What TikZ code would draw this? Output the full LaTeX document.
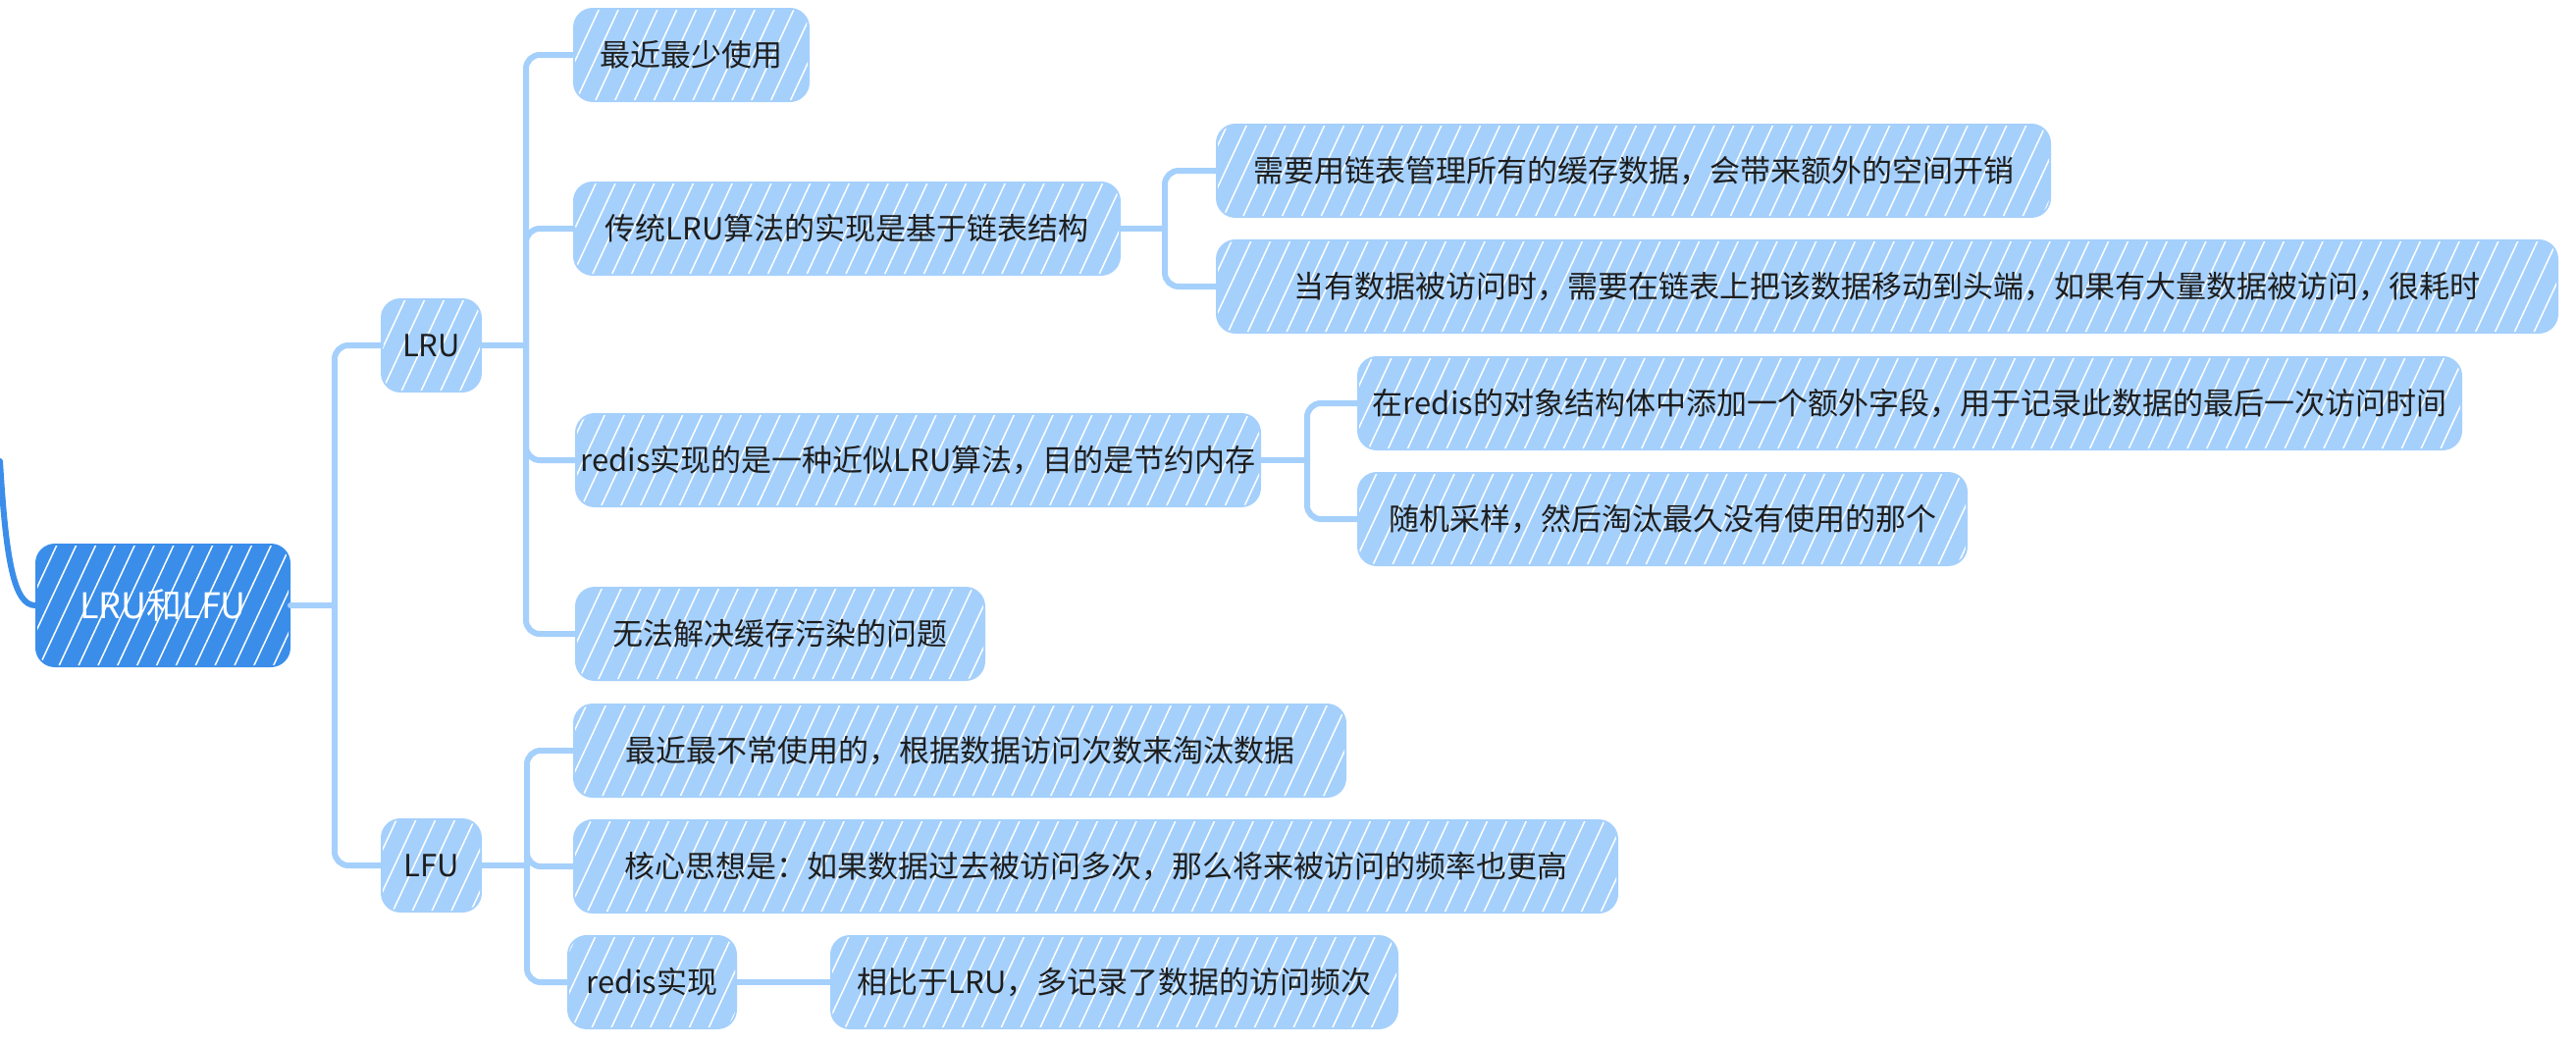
\documentclass[tikz,border=0pt]{standalone}
\usepackage{fontspec}
\newfontfamily\cjk{Noto Sans CJK SC}
\usetikzlibrary{patterns.meta}
\definecolor{cLight}{HTML}{A5D0FC}
\definecolor{cDark}{HTML}{3A8EEA}
\definecolor{cText}{HTML}{1E1E1E}
\definecolor{cLine}{HTML}{A5D0FC}
\begin{document}
\begin{tikzpicture}[x=1pt,y=-1pt,
  box/.style={rounded corners=18pt, fill=cLight, draw=cLight, line width=4pt,
    minimum height=92pt, inner sep=0pt, anchor=west, text=cText,
    font=\cjk\fontsize{31}{36}\selectfont,
    postaction={pattern={Lines[angle=65,distance=18pt,line width=1.5pt]}, pattern color=white, fill opacity=0.4}},
  rootbox/.style={box, fill=cDark, draw=cDark, text=white, minimum height=122pt,
    font=\cjk\fontsize{36}{40}\selectfont},
  conn/.style={draw=cLine, line width=6pt, rounded corners=14pt, line cap=round},
  rootlink/.style={draw=cDark, line width=6pt, line cap=round}
]
\useasboundingbox (0,0) rectangle (2625,1063);

% nodes
\node[rootbox, minimum width=256pt] (root) at (36,617) {LRU和LFU};
\node[box, minimum width=99pt] (lru) at (388,352) {LRU};
\node[box, minimum width=99pt] (lfu) at (388,882) {LFU};

\node[box, minimum width=237pt] (n1) at (584,56) {最近最少使用};
\node[box, minimum width=554pt] (n2) at (584,233) {传统LRU算法的实现是基于链表结构};
\node[box, minimum width=695pt] (n3) at (586,469) {redis实现的是一种近似LRU算法，目的是节约内存};
\node[box, minimum width=414pt] (n4) at (586,646) {无法解决缓存污染的问题};

\node[box, minimum width=847pt] (n21) at (1239,174) {需要用链表管理所有的缓存数据，会带来额外的空间开销};
\node[box, minimum width=1364pt] (n22) at (1239,292) {当有数据被访问时，需要在链表上把该数据移动到头端，如果有大量数据被访问，很耗时};

\node[box, minimum width=1122pt] (n31) at (1383,411) {在redis的对象结构体中添加一个额外字段，用于记录此数据的最后一次访问时间};
\node[box, minimum width=618pt] (n32) at (1383,529) {随机采样，然后淘汰最久没有使用的那个};

\node[box, minimum width=784pt] (m1) at (584,765) {最近最不常使用的，根据数据访问次数来淘汰数据};
\node[box, minimum width=1061pt] (m2) at (584,883) {核心思想是：如果数据过去被访问多次，那么将来被访问的频率也更高};
\node[box, minimum width=169pt] (m3) at (578,1001) {redis实现};
\node[box, minimum width=575pt] (m31) at (846,1001) {相比于LRU，多记录了数据的访问频次};

% link to the parent outside the picture
\coordinate (edge) at (0,470);
\draw[rootlink] (edge) .. controls (6,570) and (14,617) .. (root.west);

% connectors
\coordinate (t0) at (341,617);
\draw[conn] (root.east) -- (t0);
\draw[conn] (t0) |- (lru.west);
\draw[conn] (t0) |- (lfu.west);

\coordinate (t1) at (536,352);
\draw[conn] (lru.east) -- (t1);
\draw[conn] (t1) |- (n1.west);
\draw[conn] (t1) |- (n2.west);
\draw[conn] (t1) |- (n3.west);
\draw[conn] (t1) |- (n4.west);

\coordinate (t2) at (1187,233);
\draw[conn] (n2.east) -- (t2);
\draw[conn] (t2) |- (n21.west);
\draw[conn] (t2) |- (n22.west);

\coordinate (t3) at (1332,469);
\draw[conn] (n3.east) -- (t3);
\draw[conn] (t3) |- (n31.west);
\draw[conn] (t3) |- (n32.west);

\coordinate (t4) at (537,882);
\draw[conn] (lfu.east) -- (t4);
\draw[conn] (t4) |- (m1.west);
\draw[conn] (t4) |- (m2.west);
\draw[conn] (t4) |- (m3.west);

\draw[conn] (m3.east) -- (m31.west);
\end{tikzpicture}
\end{document}
